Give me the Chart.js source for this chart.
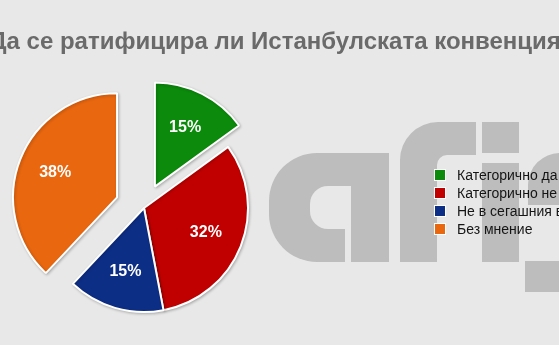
<!DOCTYPE html>
<html lang="bg">
<head>
<meta charset="utf-8">
<title>Истанбулската конвенция</title>
<script src="https://cdn.jsdelivr.net/npm/chart.js@4.4.0/dist/chart.umd.min.js"></script>
<style>
    html, body { margin: 0; padding: 0; background: #e8e8e8; }
    #wrap { position: relative; width: 559px; height: 345px; overflow: hidden; }
    #pieChart { position: absolute; left: 0; top: 0; }
    #title {
        position: absolute; left: 3px; top: 29px; width: 559px;
        display: flex; justify-content: center; white-space: nowrap;
        font: bold 24px "Liberation Sans", Arial, sans-serif; line-height: 24px;
        color: #6a6a6a;
    }
    #legend {
        position: absolute; left: 434px; top: 166px; margin: 0; padding: 0;
        list-style: none; white-space: nowrap;
        font: 14px "Liberation Sans", Arial, sans-serif; color: #151515;
    }
    #legend li { position: relative; height: 18px; line-height: 18px; padding-left: 23px; }
    #legend li span {
        position: absolute; left: 0; top: 3px; width: 10px; height: 10px;
        border: 1px solid #fff;
    }
</style>
</head>
<body>
<div id="wrap">
    <canvas id="pieChart" width="559" height="345"></canvas>
    <div id="title">Да се ратифицира ли Истанбулската конвенция?</div>
    <ul id="legend"></ul>
</div>
<script>
// данни
const categories = ['Категорично да', 'Категорично не', 'Не в сегашния вид', 'Без мнение'];
const shares = [15, 32, 15, 38];

const sliceColors = ['#0b8a0b', '#c00000', '#0d2e85', '#e8670f'];
const explode = [24, 0, 0, 29]; // px, how far a slice is pulled out

const BG = '#e8e8e8';
const MARK = '#bdbdbd';

// slice pulled out without the radius growth of the built-in offset
const ArcBase = Chart.ArcElement || Chart.elements.ArcElement;
class ExplodedArc extends ArcBase {
    draw(ctx) {
        const i = this.$context ? this.$context.dataIndex : 0;
        const push = explode[i] || 0;
        const mid = (this.startAngle + this.endAngle) / 2;
        ctx.save();
        ctx.translate(Math.cos(mid) * push, Math.sin(mid) * push);
        ctx.shadowColor = 'rgba(0,0,0,0.22)';
        ctx.shadowBlur = 3;
        ctx.shadowOffsetX = 1;
        ctx.shadowOffsetY = 1;
        super.draw(ctx);
        ctx.restore();
    }
}
ExplodedArc.id = 'explodedArc';

const PieBase = Chart.PieController || Chart.controllers.pie;
class ExplodedPie extends PieBase {}
ExplodedPie.id = 'explodedPie';
ExplodedPie.defaults = { dataElementType: 'explodedArc' };

Chart.register(ExplodedArc, ExplodedPie);

function roundLeftRect(ctx, x0, y0, x1, y1, r) {
    ctx.moveTo(x1, y0);
    ctx.lineTo(x0 + r, y0);
    ctx.arcTo(x0, y0, x0, y0 + r, r);
    ctx.lineTo(x0, y1 - r);
    ctx.arcTo(x0, y1, x0 + r, y1, r);
    ctx.lineTo(x1, y1);
    ctx.closePath();
}

// фон + воден знак "afis"
const watermark = {
    id: 'watermark',
    beforeDraw(chart) {
        const ctx = chart.ctx;
        ctx.save();
        ctx.fillStyle = BG;
        ctx.fillRect(0, 0, chart.width, chart.height);

        ctx.fillStyle = MARK;
        // a
        ctx.beginPath();
        roundLeftRect(ctx, 269, 153, 389, 262, 48);
        ctx.fill();
        ctx.fillStyle = BG;
        ctx.beginPath();
        roundLeftRect(ctx, 310, 186, 351, 229, 18);
        ctx.fill();
        ctx.fillRect(345, 186, 6, 76);

        ctx.fillStyle = MARK;
        // f
        ctx.beginPath();
        ctx.moveTo(400, 262);
        ctx.lineTo(400, 160);
        ctx.arcTo(400, 122, 438, 122, 38);
        ctx.lineTo(476, 122);
        ctx.lineTo(476, 155);
        ctx.lineTo(447, 155);
        ctx.arcTo(437, 155, 437, 165, 10);
        ctx.lineTo(437, 262);
        ctx.closePath();
        ctx.fill();
        // i
        ctx.fillRect(482, 122, 37, 31);
        ctx.fillRect(482, 163, 37, 99);
        // s
        ctx.beginPath();
        ctx.moveTo(528, 205);
        ctx.lineTo(528, 185);
        ctx.arcTo(528, 153, 560, 153, 32);
        ctx.lineTo(600, 153);
        ctx.lineTo(600, 186);
        ctx.lineTo(562, 186);
        ctx.lineTo(562, 205);
        ctx.closePath();
        ctx.fill();
        ctx.fillRect(525, 261, 80, 31);
        ctx.restore();
    }
};

// проценти в резените
const sliceLabels = {
    id: 'sliceLabels',
    afterDatasetsDraw(chart) {
        const ctx = chart.ctx;
        const meta = chart.getDatasetMeta(0);
        ctx.save();
        ctx.font = 'bold 16px "Liberation Sans", Arial, sans-serif';
        ctx.fillStyle = '#ffffff';
        ctx.textAlign = 'center';
        ctx.textBaseline = 'middle';
        meta.data.forEach((arc, i) => {
            const p = arc.getProps(['x', 'y', 'startAngle', 'endAngle', 'outerRadius'], true);
            const mid = (p.startAngle + p.endAngle) / 2;
            const r = explode[i] + p.outerRadius * 0.64;
            ctx.fillText(shares[i] + '%', p.x + Math.cos(mid) * r, p.y + Math.sin(mid) * r);
        });
        ctx.restore();
    }
};

const legendEl = document.getElementById('legend');
legendEl.innerHTML = categories.map((c, i) =>
    `<li><span style="background:${sliceColors[i]}"></span>${c}</li>`).join('');

const ctx = document.getElementById('pieChart').getContext('2d');
const pieChart = new Chart(ctx, {
    type: 'explodedPie',
    data: {
        labels: categories,
        datasets: [{
            data: shares,
            backgroundColor: sliceColors,
            borderColor: '#ffffff',
            borderWidth: 2,
            radius: 104,
            clip: false
        }]
    },
    options: {
        responsive: false,
        animation: false,
        devicePixelRatio: 1,
        layout: { padding: { left: 0, right: 271, top: 71, bottom: 0 } },
        plugins: {
            legend: { display: false },
            title: { display: false },
            tooltip: { enabled: false }
        }
    },
    plugins: [watermark, sliceLabels]
});
</script>
</body>
</html>
